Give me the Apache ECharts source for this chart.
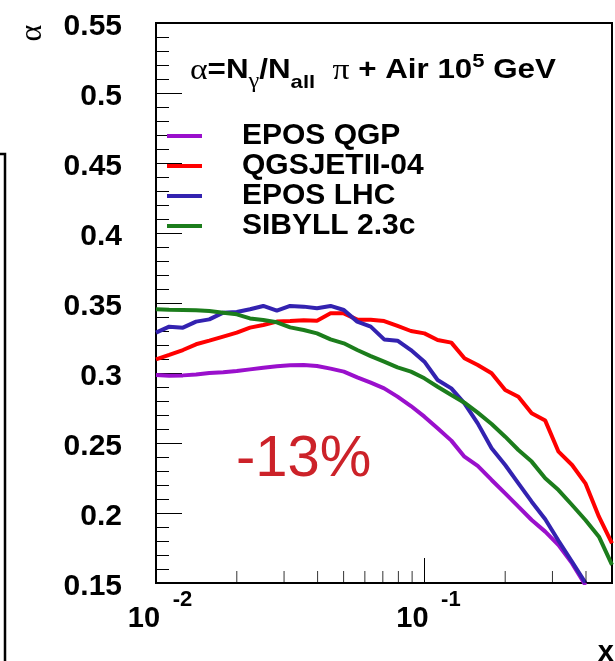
<!DOCTYPE html>
<html><head><meta charset="utf-8">
<script src="https://cdn.jsdelivr.net/npm/echarts@6/dist/echarts.min.js"></script>
<style>html,body{margin:0;padding:0;background:#fff}#c{width:615px;height:661px}</style>
</head><body><div id="c"></div>
<script>
// ---- data ----
const xValues = [0.01,0.0112,0.0126,0.0141,0.0158,0.0178,0.02,0.0224,0.0251,0.0282,0.0316,0.0355,0.0398,0.0447,0.0501,0.0562,0.0631,0.0708,0.0794,0.0891,0.1,0.112,0.126,0.141,0.158,0.178,0.2,0.224,0.251,0.282,0.316,0.355,0.398,0.447,0.5];
const seriesNames = ['EPOS QGP','QGSJETII-04','EPOS LHC','SIBYLL 2.3c'];
const eposQGP = [0.2986,0.2981,0.2983,0.2990,0.3000,0.3005,0.3014,0.3026,0.3038,0.3048,0.3055,0.3057,0.3050,0.3031,0.3010,0.2969,0.2931,0.2890,0.2831,0.2764,0.2688,0.2605,0.2517,0.2402,0.2336,0.2236,0.2140,0.2045,0.1950,0.1867,0.1771,0.1640,0.1485];
const qgsjet = [0.3098,0.3129,0.3164,0.3205,0.3231,0.3260,0.3288,0.3324,0.3343,0.3367,0.3371,0.3376,0.3374,0.3426,0.3426,0.3381,0.3381,0.3371,0.3336,0.3300,0.3283,0.3236,0.3217,0.3105,0.3057,0.2998,0.2879,0.2831,0.2712,0.2660,0.2438,0.2343,0.2212,0.1974,0.1783];
const eposLHC = [0.3288,0.3331,0.3324,0.3367,0.3383,0.3431,0.3436,0.3455,0.3479,0.3445,0.3479,0.3474,0.3462,0.3479,0.3450,0.3367,0.3331,0.3240,0.3231,0.3164,0.3081,0.2950,0.2890,0.2783,0.2640,0.2462,0.2343,0.2212,0.2081,0.1955,0.1802,0.1652,0.1502];
const sibyll = [0.3455,0.3452,0.3450,0.3448,0.3443,0.3431,0.3419,0.3390,0.3379,0.3362,0.3326,0.3307,0.3283,0.3240,0.3212,0.3164,0.3121,0.3081,0.3040,0.3010,0.2962,0.2902,0.2843,0.2788,0.2717,0.2636,0.2545,0.2450,0.2367,0.2248,0.2164,0.2057,0.1950,0.1831,0.1629];
const minorTicksX = [0.02,0.03,0.04,0.05,0.06,0.07,0.08,0.09,0.2,0.3,0.4];
const yMin = 0.15, yMax = 0.55, yStep = 0.05;
const xMin = 0.01, xMax = 0.5;

const colors = ['#9a10cc','#ff0000','#3322b0','#1c7d1c'];
const FF = '"Liberation Sans", Arial, Helvetica, sans-serif';
const allSeries = [eposQGP, qgsjet, eposLHC, sibyll];

const chart = echarts.init(document.getElementById('c'), null, {renderer:'canvas'});
const lineSeries = allSeries.map((vals, i) => ({
  name: seriesNames[i], type: 'line', showSymbol: false, symbol: 'none',
  data: vals.map((v, k) => [xValues[k], v]),
  color: colors[i],
  lineStyle: {width: 4, color: colors[i]},
  clip: true, animation: false, z: 3
}));

chart.setOption({
  animation: false,
  backgroundColor: '#fff',
  grid: {left: 156, right: 1, top: 23, bottom: 78, show: true, borderColor: '#000', borderWidth: 2, backgroundColor: 'transparent'},
  legend: {
    data: seriesNames, orient: 'vertical', left: 167, top: 121, padding: 0,
    itemWidth: 35, itemHeight: 4, itemGap: 0, icon: 'rect', selectedMode: false,
    itemStyle: {borderWidth: 0},
    textStyle: {fontSize: 30, fontWeight: 'bold', color: '#000', fontFamily: FF, lineHeight: 28, padding: [0,0,0,35]}
  },
  xAxis: {
    type: 'log', logBase: 10, min: xMin, max: xMax,
    axisLine: {show: true, lineStyle: {color: '#000', width: 2}},
    axisTick: {show: true, inside: true, length: 25, lineStyle: {color: '#000', width: 1}},
    minorTick: {show: false},
    splitLine: {show: false},
    axisLabel: {
      margin: 8,
      formatter: function (v) {
        const e = Math.log10(v);
        const r = Math.round(e);
        if (Math.abs(e - r) > 1e-6) return '';
        return '{s|' + r + '}\n{b|10}';
      },
      rich: {
        s: {fontSize: 22, fontWeight: 'bold', fontFamily: FF, color: '#000', lineHeight: 18, padding: [0,0,0,53]},
        b: {fontSize: 29, fontWeight: 'bold', fontFamily: FF, color: '#000', lineHeight: 20, padding: [0,24,0,0]}
      }
    }
  },
  yAxis: {
    type: 'value', min: yMin, max: yMax, interval: yStep,
    axisLine: {show: true, lineStyle: {color: '#000', width: 2}},
    axisTick: {show: true, inside: true, length: 26, lineStyle: {color: '#000', width: 1}},
    minorTick: {show: true, splitNumber: 5, length: 13, lineStyle: {color: '#000', width: 1}},
    splitLine: {show: false},
    axisLabel: {fontSize: 30, fontWeight: 'bold', color: '#000', fontFamily: FF, margin: 34, verticalAlign: 'top', lineHeight: 8}
  },
  series: lineSeries.concat([{
    name: 'minorTicks', type: 'scatter', silent: true, animation: false,
    data: minorTicksX.map(v => [v, yMin]),
    symbol: 'rect', symbolSize: [1, 12], symbolOffset: [0, -6],
    itemStyle: {color: '#000'}, z: 5
  }]),
  graphic: [
    {type: 'polyline', shape: {points: [[0,154],[5,154],[5,661]]}, style: {stroke: '#000', lineWidth: 2.5, fill: null}},
    {type: 'text', x: 33, y: 33, rotation: Math.PI / 2,
     style: {text: 'α', fontSize: 32, fontFamily: '"Liberation Serif", serif', fill: '#000', align: 'center', verticalAlign: 'middle'}},
    {type: 'text', x: 614, y: 653,
     style: {text: 'x', fontSize: 29, fontWeight: 'bold', fontFamily: FF, fill: '#000', align: 'right', verticalAlign: 'middle'}},
    {type: 'text', x: 236, y: 460,
     style: {text: '-13%', fontSize: 58, fontFamily: FF, fill: '#cc2229', align: 'left', verticalAlign: 'middle'}},
    {type: 'text', x: 190, y: 71, scaleX: 1.16,
     style: {
       text: '{a|α}{m|=N}{g|γ}{m|/N}{s|all}{m|  }{a|π}{m| + Air 10}{p|5}{m| GeV}',
       align: 'left', verticalAlign: 'middle',
       rich: {
         a: {fontSize: 29, fontFamily: '"Liberation Serif", serif', color: '#000'},
         m: {fontSize: 27, fontWeight: 'bold', fontFamily: FF, color: '#000'},
         g: {fontSize: 21, fontFamily: '"Liberation Serif", serif', color: '#000', padding: [21,0,0,0]},
         s: {fontSize: 19, fontWeight: 'bold', fontFamily: FF, color: '#000', padding: [24,0,0,0]},
         p: {fontSize: 19, fontWeight: 'bold', fontFamily: FF, color: '#000', padding: [0,0,18,0]}
       }
     }}
  ]
});
</script>
</body></html>
